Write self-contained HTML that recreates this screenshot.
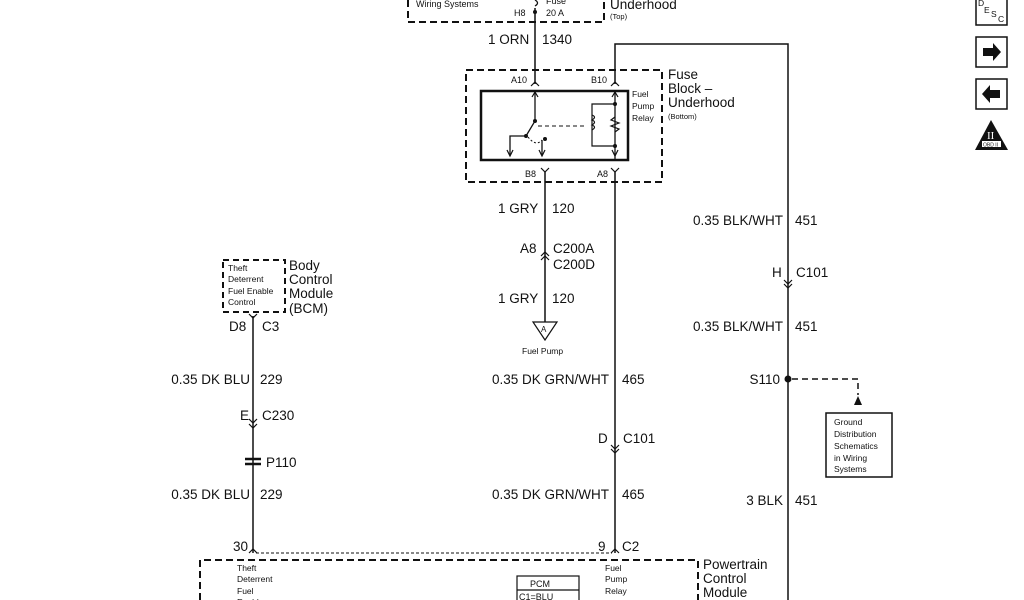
<!DOCTYPE html>
<html><head><style>
body{margin:0;background:#fff;width:1024px;height:600px;overflow:hidden}
svg{display:block;font-family:"Liberation Sans",Arial,sans-serif;fill:#111}
text{fill:#111}
.l{font-size:13.5px}
.s{font-size:8.5px}
.m{font-size:9px}
.b{font-size:13.5px}
</style></head><body>
<svg width="1024" height="600" viewBox="0 0 1024 600">
<g fill="none" stroke="#111">
<path d="M408 0 V22 H604 V0" stroke-width="2" stroke-dasharray="7,4"/>
<path d="M535 8 V84" stroke-width="1.5"/>
<path d="M535 0 q5 3 0 6" stroke-width="1.3"/>
<path d="M615 84 V44 H788 V600" stroke-width="1.5"/>
<rect x="466" y="70" width="196" height="112" stroke-width="2" stroke-dasharray="7,4"/>
<rect x="481" y="91" width="147" height="69" stroke-width="2.5"/>
<path d="M531 86 l4 -4 l4 4 M611 86 l4 -4 l4 4" stroke-width="1.2"/>
<path d="M541 168 l4 4 l4 -4 M611 168 l4 4 l4 -4" stroke-width="1.2"/>
<path d="M535 91 V121 L526 136 M526 136 H510 V155 M542 140 V155 M615 91 V160" stroke-width="1.3"/>
<path d="M507 150 l3 6 l3 -6 M539 150 l3 6 l3 -6 M612 150 l3 6 l3 -6 M532 97 l3 -5 l3 5 M612 97 l3 -5 l3 5" stroke-width="1.2"/>
<path d="M528 137 q8 10 14 3" stroke-dasharray="2,2"/>
<path d="M538 126 H586" stroke-dasharray="4,3"/>
<path d="M615 104 H592 V146 H615" stroke-width="1.2"/>
<path d="M592 115 q5 2 0 5 q5 2 0 5 q5 2 0 5" stroke-width="1.2"/>
<path d="M615 117 l-4 3 l8 3 l-8 3 l8 3 l-4 3" stroke-width="1.2"/>
<path d="M545 172 V322" stroke-width="1.5"/>
<path d="M541 256 l4 -4 l4 4 M541 260 l4 -4 l4 4" stroke-width="1.2"/>
<path d="M533 322 H557 L545 340 Z" stroke-width="1.2"/>
<path d="M615 172 V553" stroke-width="1.5"/>
<path d="M611 445 l4 4 l4 -4 M611 449 l4 4 l4 -4" stroke-width="1.2"/>
<path d="M784 280 l4 4 l4 -4 M784 284 l4 4 l4 -4" stroke-width="1.2"/>
<path d="M792 379 H858 V395" stroke-width="1.5" stroke-dasharray="6,4"/>
<rect x="826" y="413" width="66" height="64" stroke-width="1.5"/>
<rect x="223" y="260" width="62" height="52" stroke-width="2" stroke-dasharray="6,4"/>
<path d="M253 316 V553" stroke-width="1.5"/>
<path d="M249 314 l4 4 l4 -4 M249 419 l4 4 l4 -4 M249 424 l4 4 l4 -4" stroke-width="1.2"/>
<path d="M245 459 H261 M245 464 H261" stroke-width="2.5"/>
<path d="M256 553 H612" stroke-width="1" stroke-dasharray="3,2"/>
<path d="M249 553 l4 -4 l4 4 M611 553 l4 -4 l4 4" stroke-width="1.2"/>
<path d="M200 600 V560 H698 V600" stroke-width="2" stroke-dasharray="7,4"/>
<rect x="517" y="576" width="62" height="30" stroke-width="1.2"/>
<path d="M517 590 H579" stroke-width="1.2"/>
<rect x="976" y="-2" width="31" height="27" stroke-width="1.5"/>
<rect x="976" y="37" width="31" height="30" stroke-width="1.5"/>
<rect x="976" y="79" width="31" height="30" stroke-width="1.5"/>
</g>
<circle cx="535" cy="12" r="2"/>
<circle cx="535" cy="121" r="2"/><circle cx="526" cy="136" r="2"/><circle cx="545" cy="139" r="2"/>
<circle cx="615" cy="104" r="2"/><circle cx="615" cy="146" r="2"/>
<circle cx="788" cy="379" r="3.5"/>
<path d="M854 405 L858 396 L862 405 Z"/>
<path d="M983 48 H993 V43 L1001 52 L993 61 V56 H983 Z"/>
<path d="M1000 90 H990 V85 L982 94 L990 103 V98 H1000 Z"/>
<path d="M991 120 L975 150 H1008 Z"/>
<rect x="982" y="141" width="19" height="6" fill="#fff"/>
<text x="987" y="139" style="font-size:11px;fill:#fff;font-family:'Liberation Serif'">II</text>
<text x="983" y="146.5" style="font-size:5px">OBD II</text>
<text x="978" y="6" class="s">D</text><text x="984" y="13" class="s">E</text><text x="991" y="17" class="s">S</text><text x="998" y="22" class="s">C</text>
<text x="416" y="7" class="m">Wiring Systems</text>
<text x="514" y="16" class="m">H8</text>
<text x="546" y="4" class="m">Fuse</text>
<text x="546" y="16" class="m">20 A</text>
<text x="610" y="9" class="b">Underhood</text>
<text x="610" y="19" style="font-size:7.5px">(Top)</text>
<text x="488" y="44" class="l">1 ORN</text><text x="542" y="44" class="l">1340</text>
<text x="511" y="83" class="m">A10</text><text x="591" y="83" class="m">B10</text>
<text x="632" y="97" class="s">Fuel</text><text x="632" y="109" class="s">Pump</text><text x="632" y="121" class="s">Relay</text>
<text x="668" y="79" class="b">Fuse</text><text x="668" y="93" class="b">Block –</text><text x="668" y="107" class="b">Underhood</text>
<text x="668" y="119" style="font-size:7.5px">(Bottom)</text>
<text x="525" y="177" class="m">B8</text><text x="597" y="177" class="m">A8</text>
<text x="498" y="213" class="l">1 GRY</text><text x="552" y="213" class="l">120</text>
<text x="520" y="253" class="l">A8</text><text x="553" y="253" class="l">C200A</text><text x="553" y="269" class="l">C200D</text>
<text x="498" y="303" class="l">1 GRY</text><text x="552" y="303" class="l">120</text>
<text x="541" y="332" style="font-size:8px">A</text>
<text x="522" y="354" class="s">Fuel Pump</text>
<text x="609" y="384" class="l" text-anchor="end">0.35 DK GRN/WHT</text><text x="622" y="384" class="l">465</text>
<text x="598" y="443" class="l">D</text><text x="623" y="443" class="l">C101</text>
<text x="609" y="499" class="l" text-anchor="end">0.35 DK GRN/WHT</text><text x="622" y="499" class="l">465</text>
<text x="598" y="551" class="l">9</text><text x="622" y="551" class="l">C2</text>
<text x="783" y="225" class="l" text-anchor="end">0.35 BLK/WHT</text><text x="795" y="225" class="l">451</text>
<text x="772" y="277" class="l">H</text><text x="796" y="277" class="l">C101</text>
<text x="783" y="331" class="l" text-anchor="end">0.35 BLK/WHT</text><text x="795" y="331" class="l">451</text>
<text x="780" y="384" class="l" text-anchor="end">S110</text>
<text x="783" y="505" class="l" text-anchor="end">3 BLK</text><text x="795" y="505" class="l">451</text>
<text x="834" y="425" class="s">Ground</text><text x="834" y="437" class="s">Distribution</text><text x="834" y="449" class="s">Schematics</text><text x="834" y="461" class="s">in Wiring</text><text x="834" y="472" class="s">Systems</text>
<text x="228" y="271" class="s">Theft</text><text x="228" y="282" class="s">Deterrent</text><text x="228" y="294" class="s">Fuel Enable</text><text x="228" y="305" class="s">Control</text>
<text x="289" y="270" class="l">Body</text><text x="289" y="284" class="l">Control</text><text x="289" y="298" class="l">Module</text><text x="289" y="313" class="l">(BCM)</text>
<text x="229" y="331" class="l">D8</text><text x="262" y="331" class="l">C3</text>
<text x="250" y="384" class="l" text-anchor="end">0.35 DK BLU</text><text x="260" y="384" class="l">229</text>
<text x="240" y="420" class="l">E</text><text x="262" y="420" class="l">C230</text>
<text x="266" y="467" class="l">P110</text>
<text x="250" y="499" class="l" text-anchor="end">0.35 DK BLU</text><text x="260" y="499" class="l">229</text>
<text x="233" y="551" class="l">30</text>
<text x="237" y="571" class="s">Theft</text><text x="237" y="582" class="s">Deterrent</text><text x="237" y="594" class="s">Fuel</text><text x="237" y="605" class="s">Enable</text>
<text x="530" y="587" class="m">PCM</text><text x="519" y="600" class="m">C1=BLU</text>
<text x="605" y="571" class="s">Fuel</text><text x="605" y="582" class="s">Pump</text><text x="605" y="594" class="s">Relay</text>
<text x="703" y="569" class="l">Powertrain</text><text x="703" y="583" class="l">Control</text><text x="703" y="597" class="l">Module</text>
</svg>
</body></html>
